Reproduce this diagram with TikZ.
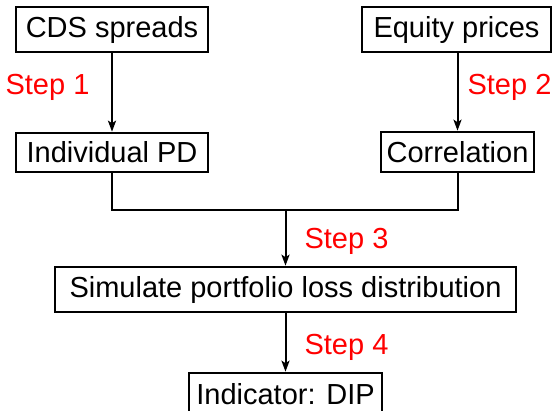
\documentclass[tikz,border=0pt]{standalone}
\usepackage{fontspec}
\setmainfont{Liberation Sans}
\usetikzlibrary{arrows.meta}
\begin{document}
\begin{tikzpicture}[x=1pt,y=-1pt,
  box/.style={draw=black,line width=2.6pt,rectangle,inner sep=0pt,
    font=\fontsize{29}{35}\selectfont},
  steplabel/.style={text=red,inner sep=0pt,font=\fontsize{29}{35}\selectfont},
  link/.style={line width=2pt,-{Stealth[length=11pt,width=8pt,inset=2.5pt]}},
  joinline/.style={line width=2pt}]
\useasboundingbox (0,0) rectangle (553,410);
% input boxes
\node[box,minimum width=192pt,minimum height=45pt] (cds) at (112,29.5) {CDS spreads};
\node[box,minimum width=189pt,minimum height=45pt] (eq) at (456.5,29.5) {Equity prices};
% intermediate results
\node[box,minimum width=192pt,minimum height=39pt] (pd) at (112,152.5) {Individual PD};
\node[box,minimum width=153pt,minimum height=40pt] (corr) at (457.5,152) {Correlation};
% simulation and output
\node[box,minimum width=461pt,minimum height=45pt] (sim) at (285.5,289.5) {Simulate portfolio loss distribution};
\node[box,minimum width=193pt,minimum height=42pt] (ind) at (285.5,394) {Indicator: DIP};
% step labels
\node[steplabel] (s1) at (47.5,87) {Step 1};
\node[steplabel] (s2) at (509.5,87) {Step 2};
\node[steplabel] (s3) at (346.5,241.5) {Step 3};
\node[steplabel] (s4) at (346.5,347.5) {Step 4};
% connectors
\coordinate (join) at (285.5,210);
\draw[link] (cds.south) -- (pd.north);
\draw[link] (eq.south -| corr.north) -- (corr.north);
\draw[joinline] (pd.south) |- (join) -| (corr.south);
\draw[link] (join) -- (sim.north);
\draw[link] (sim.south) -- (ind.north);
\end{tikzpicture}
\end{document}
